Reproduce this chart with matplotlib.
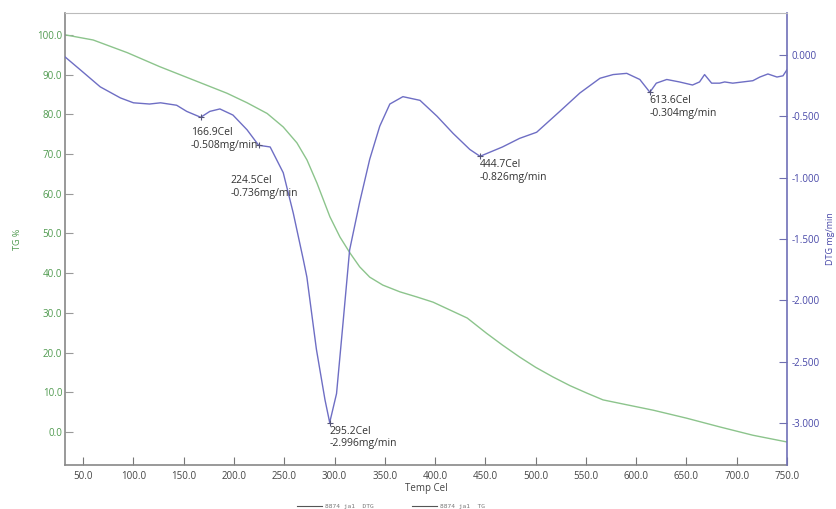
import matplotlib.pyplot as plt
from matplotlib.lines import Line2D

plt.rcParams['font.family'] = ['Open Sans', 'DejaVu Sans']

# TG curve (left axis, %)
tg_temp = [32, 60, 94, 126, 159, 193, 213, 233, 249, 262.6, 272.6, 282.5, 295.4,
           305.4, 315.3, 325, 335, 348, 365, 382, 398, 415, 432, 451, 467, 484,
           500, 517, 534, 551, 567, 590, 617, 650, 683, 716, 750]
tg_val = [100.0, 98.7, 95.5, 92.0, 88.7, 85.3, 82.9, 80.2, 76.8, 72.8, 68.5, 62.7,
          54.2, 49.1, 45.1, 41.6, 39.0, 37.0, 35.3, 34.0, 32.7, 30.7, 28.7, 24.9,
          21.9, 18.9, 16.3, 13.9, 11.7, 9.8, 8.1, 6.9, 5.5, 3.5, 1.3, -0.8, -2.5]

# DTG curve (right axis, mg/min)
dtg_temp = [32, 47, 67, 87, 100, 116, 127, 143, 153, 166.9, 176, 186, 199, 213,
            224.5, 236, 249, 259, 269, 272.5, 282, 290.5, 295.2, 302, 308.5, 315,
            325, 335, 345, 355, 368, 385, 402, 418, 434.5, 444.7, 467, 484, 501,
            524, 544, 564, 577, 590.6, 603.6, 613.6, 620, 630.4, 643, 656, 663,
            668, 675, 683, 688, 696, 716, 723, 731, 740, 746, 750]
dtg_val = [-0.016, -0.12, -0.26, -0.35, -0.39, -0.40, -0.39, -0.41, -0.46, -0.508,
           -0.46, -0.44, -0.49, -0.61, -0.736, -0.75, -0.96, -1.29, -1.67, -1.81,
           -2.40, -2.81, -2.996, -2.76, -2.18, -1.59, -1.20, -0.85, -0.58, -0.40,
           -0.34, -0.37, -0.50, -0.64, -0.77, -0.826, -0.75, -0.68, -0.63, -0.46,
           -0.31, -0.19, -0.16, -0.15, -0.20, -0.304, -0.23, -0.20, -0.22, -0.245,
           -0.22, -0.16, -0.23, -0.23, -0.22, -0.23, -0.21, -0.18, -0.155, -0.18,
           -0.17, -0.12]

# labelled DTG peaks
peak_temp = [166.9, 224.5, 295.2, 444.7, 613.6]
peak_val = [-0.508, -0.736, -2.996, -0.826, -0.304]
peak_offset = [(-10, -10), (-28, -30), (0, -3), (0, -3), (0, -3)]

x_ticks = [50, 100, 150, 200, 250, 300, 350, 400, 450, 500, 550, 600, 650, 700, 750]
tg_ticks = [0, 10, 20, 30, 40, 50, 60, 70, 80, 90, 100]
dtg_ticks = [0.0, -0.5, -1.0, -1.5, -2.0, -2.5, -3.0]

tg_color = '#8cc48c'
dtg_color = '#6e6ec4'

fig = plt.figure(figsize=(8.37, 5.09), dpi=100)
ax = fig.add_axes([0.0777, 0.0864, 0.8626, 0.8881])
ax2 = ax.twinx()

ax.plot(tg_temp, tg_val, color=tg_color, lw=1.0)
ax2.plot(dtg_temp, dtg_val, color=dtg_color, lw=1.0)
ax2.plot(peak_temp, peak_val, '+', color='#555577', ms=4, mew=0.8)

for t, v, (dx, dy) in zip(peak_temp, peak_val, peak_offset):
    ax2.annotate(f'{t:.1f}Cel\n{v:.3f}mg/min', (t, v), xytext=(dx, dy),
                 textcoords='offset pixels', ha='left', va='top',
                 fontsize=7.5, color='#333333', linespacing=1.2)

ax.set_xlim(32, 750)
ax.set_ylim(-8.3, 105.5)
ax2.set_ylim(-3.342, 0.342)

ax.set_xticks(x_ticks)
ax.set_xticklabels([f'{v:.1f}' for v in x_ticks])
ax.set_yticks(tg_ticks)
ax.set_yticklabels([f'{v:.1f}' for v in tg_ticks])
ax2.set_yticks(dtg_ticks)
ax2.set_yticklabels([f'{v:.3f}' for v in dtg_ticks])

ax.tick_params(axis='x', direction='in', length=6, width=0.8, color='#777777',
               labelsize=7, labelcolor='#444444', pad=4)
ax.tick_params(axis='y', direction='in', length=6, width=0.8, color='#999999',
               labelsize=7, labelcolor='#4f9a4f', pad=2)
ax2.tick_params(axis='y', direction='in', length=6, width=0.8, color='#7070b0',
                labelsize=7, labelcolor='#4848a8', pad=3)

for sp in ['left', 'bottom']:
    ax.spines[sp].set_color('#888888')
    ax.spines[sp].set_linewidth(1.2)
ax2.spines['left'].set_visible(False)
ax2.spines['bottom'].set_visible(False)
ax2.spines['top'].set_color('#bbbbbb')
ax2.spines['right'].set_color('#7070b8')
ax2.spines['right'].set_linewidth(1.2)
ax.spines['top'].set_visible(False)
ax.spines['right'].set_visible(False)

ax.set_xlabel('Temp Cel', fontsize=7, color='#444444', labelpad=1)
ax.set_ylabel('TG %', fontsize=6.5, color='#4f9a4f', labelpad=11)
ax2.set_ylabel('DTG mg/min', fontsize=6.5, color='#4848a8', rotation=90, labelpad=5)

# tiny legend under the axis title
handles = [Line2D([], [], color='#555555', lw=0.8),
           Line2D([], [], color='#555555', lw=0.8)]
fig.legend(handles=handles, labels=['8874 ja1  DTG', '8874 ja1  TG'],
           loc='lower center', bbox_to_anchor=(0.467, -0.012), ncol=2, frameon=False,
           prop={'family': 'DejaVu Sans Mono', 'size': 4.5}, handlelength=4,
           handletextpad=0.5, columnspacing=6, labelcolor='#777777')

fig.savefig('out.png', dpi=100)
